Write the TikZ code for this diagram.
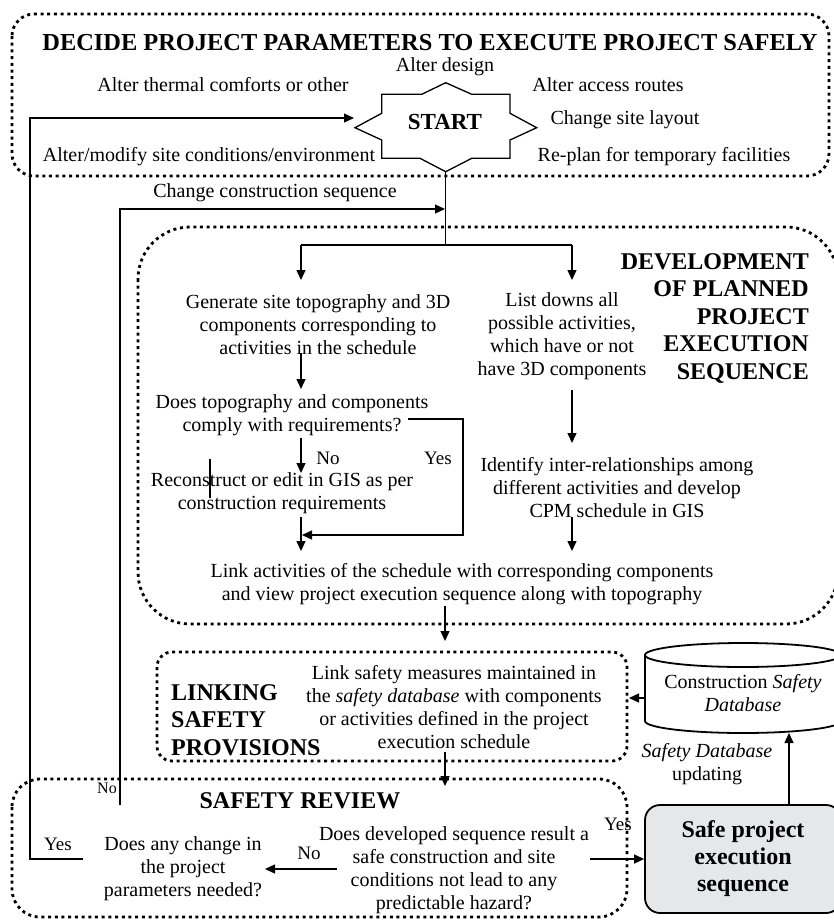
\documentclass[tikz,border=0pt]{standalone}
\usepackage{fontspec}
\setmainfont{Liberation Serif}
\usetikzlibrary{arrows.meta,shapes.geometric}
\begin{document}
\begin{tikzpicture}[x=1pt,y=-1pt,
  txt/.style={align=center,inner sep=0pt,font=\fontsize{20}{23}\selectfont},
  lbl/.style={inner sep=0pt,font=\fontsize{19}{22}\selectfont},
  hd/.style={inner sep=0pt,font=\fontsize{24}{27.5}\selectfont\bfseries},
  dotbox/.style={draw,line width=2.8pt,dash pattern=on 3pt off 3.7pt},
  ln/.style={line width=1.3pt},
  arr/.style={line width=1.3pt,-{Triangle[length=10pt,width=9pt]}}
]
\useasboundingbox (0,0) rectangle (834,922);
\clip (0,0) rectangle (834,922);

% ---------- boxes ----------
\draw[dotbox,rounded corners=22pt] (12,14) rectangle (829,176);
\draw[dotbox,rounded corners=52pt] (138,227) rectangle (838,624);
\draw[dotbox,rounded corners=15pt] (157,652) rectangle (627,761);
\draw[dotbox,rounded corners=28pt] (12,779) rectangle (627,917);

% ---------- top section ----------
\node[inner sep=0pt,font=\fontsize{24.4}{28}\selectfont\bfseries] (title) at (430,43) {DECIDE PROJECT PARAMETERS TO EXECUTE PROJECT SAFELY};
\node[txt] (design) at (445,67) {Alter design};
\node[txt] (thermal) at (223,85) {Alter thermal comforts or other};
\node[txt] (access) at (608,85) {Alter access routes};
\node[txt] (layout) at (625,120) {Change site layout};
\node[txt] (modify) at (209,157) {Alter/modify site conditions/environment};
\node[txt] (replan) at (664,157) {Re-plan for temporary facilities};

\draw[ln,line join=miter] (445.7,82.7) -- (471.7,94.3) -- (510,94.3) -- (510,113.3)
  -- (536.7,127.7) -- (510,140) -- (510,158.3) -- (471.7,158.3) -- (445.7,171.7)
  -- (420,158.3) -- (381.7,158.3) -- (381.7,140) -- (355,127.7) -- (381.7,113.3)
  -- (381.7,94.3) -- (421.7,94.3) -- cycle;
\node[inner sep=0pt,font=\fontsize{23}{26}\selectfont\bfseries] (start) at (445,122) {START};
\coordinate (starB) at (445.7,171.7);
\coordinate (starL) at (354,118);

\node[txt] (chseq) at (275,193) {Change construction sequence};

% ---------- development ----------
\coordinate (split) at (445.7,245);
\coordinate (splitL) at (301,245);
\coordinate (splitR) at (572,245);
\node[txt] (gen) at (318,325) {Generate site topography and 3D\\components corresponding to\\activities in the schedule};
\node[txt] (list) at (562,336) {List downs all\\possible activities,\\which have or not\\have 3D components};
\node[hd,align=right,anchor=east] (dev) at (809,318) {DEVELOPMENT\\OF PLANNED\\PROJECT\\EXECUTION\\SEQUENCE};
\node[txt] (comply) at (292,415.5) {Does topography and components\\comply with requirements?};
\node[txt] (recon) at (282,493.5) {Reconstruct or edit in GIS as per\\construction requirements};
\node[txt] (ident) at (617,488) {Identify inter-relationships among\\different activities and develop\\CPM schedule in GIS};
\node[txt] (linkact) at (462,584) {Link activities of the schedule with corresponding components\\and view project execution sequence along with topography};
\node[lbl] (no1) at (328,458) {No};
\node[lbl] (yes1) at (438,458) {Yes};

% ---------- linking ----------
\node[hd,align=left,anchor=west] (linking) at (171,720) {LINKING\\SAFETY\\PROVISIONS};
\node[txt,font=\fontsize{20}{23.3}\selectfont] (linksafe) at (454,707) {Link safety measures maintained in\\the \textit{safety database} with components\\or activities defined in the project\\execution schedule};

% database cylinder
\draw[line width=1.8pt] (743,655) ellipse [x radius=98, y radius=12];
\draw[line width=1.8pt] (645,655) -- (645,721) arc[start angle=180,end angle=0,x radius=98,y radius=12] -- (841,655);
\node[txt] (db) at (743,693.5) {Construction \textit{Safety}\\\textit{Database}};
\coordinate (dbL) at (645,698);
\coordinate (dbB) at (789,733);
\node[txt] (upd) at (707,764) {\textit{Safety Database}\\updating};

% safe box
\node[draw,line width=1.8pt,rounded corners=15pt,fill={rgb,255:red,230;green,231;blue,232},
  minimum width=196pt,minimum height=108pt,align=center,inner sep=0pt,
  font=\fontsize{24}{27}\selectfont\bfseries] (safe) at (743,859) {Safe project\\execution\\sequence};

% ---------- safety review ----------
\node[inner sep=0pt,font=\fontsize{24}{27}\selectfont\bfseries] (review) at (300,801) {SAFETY REVIEW};
\node[txt] (change) at (183,868.5) {Does any change in\\the project\\parameters needed?};
\node[txt] (devseq) at (454,869.75) {Does developed sequence result a\\safe construction and site\\conditions not lead to any\\predictable hazard?};
\node[inner sep=0pt,font=\fontsize{16}{18}\selectfont] (no3) at (107,788) {No};
\node[lbl] (yes3) at (58,844) {Yes};
\node[lbl] (no2) at (309,853) {No};
\node[lbl] (yes2) at (618,824) {Yes};

% ---------- connectors ----------
\draw[ln] (starB) -- (split);
\draw[ln] (splitL) -- (splitR);
\draw[arr] (splitL) -- (301,280);
\draw[arr] (splitR) -- (572,280);
\draw[arr] (301,353) -- (301,389);
\draw[arr] (301,438) -- (301,473);
\draw[arr] (408,419) -- (463,419) -- (463,535) -- (302,535);
\draw[arr] (301,517) -- (301,551);
\draw[ln] (210,459) -- (210,498);
\draw[arr] (572,390) -- (572,443);
\draw[arr] (572,517) -- (572,551);
\draw[arr] (445,606) -- (445,641);
\draw[arr] (445,752) -- (445,786);
\draw[arr] (dbL) -- (629,698);
\draw[arr] (789,805) -- (dbB);
\draw[arr] (590,859) -- (safe.west |- 0,859);
\draw[arr] (337,869) -- (265,869);
\draw[arr] (83,859) -- (30,859) -- (30,118) -- (starL);
\draw[arr] (120,805) -- (120,209) -- (445,209);
\end{tikzpicture}
\end{document}
